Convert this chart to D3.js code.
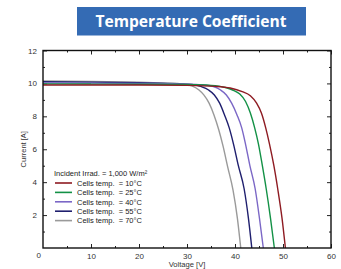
<!DOCTYPE html>
<html>
<head>
<meta charset="utf-8">
<script src="https://cdn.jsdelivr.net/npm/d3@7"></script>
<style>
    body { margin: 0; background: #fff; }
    svg { display: block; font-family: "Liberation Sans", Arial, sans-serif; }
</style>
</head>
<body>
<div id="chart"></div>
<script>
// values: [voltage V, current A]
const temps = [10, 25, 40, 55, 70];
const curve10 = [[0, 9.9], [10, 9.9], [20, 9.9], [30, 9.88], [36, 9.82], [39, 9.72], [41.5, 9.5], [43.2, 9.25], [44.5, 8.8], [45.5, 8.2], [46.4, 7.3], [47.2, 6.3], [48.1, 5.0], [48.9, 3.6], [49.8, 1.8], [50.5, 0]];
const curve25 = [[0, 9.97], [10, 9.96], [20, 9.95], [30, 9.93], [35, 9.88], [38, 9.75], [39.5, 9.6], [41, 9.35], [42.2, 8.9], [43.2, 8.2], [44.1, 7.3], [44.9, 6.3], [45.7, 5.0], [46.5, 3.6], [47.4, 1.8], [48.2, 0]];
const curve40 = [[0, 10.03], [10, 10.02], [20, 10.0], [30, 9.96], [33, 9.92], [35.5, 9.8], [37, 9.6], [38.2, 9.3], [39.3, 8.8], [40.4, 8.1], [41.4, 7.3], [42.2, 6.3], [43.1, 5.0], [44.2, 3.6], [45.1, 1.8], [45.9, 0]];
const curve55 = [[0, 10.1], [10, 10.08], [20, 10.04], [28, 9.98], [31, 9.93], [33, 9.8], [34.5, 9.6], [35.7, 9.3], [36.8, 8.8], [37.8, 8.1], [38.8, 7.3], [39.7, 6.3], [40.7, 5.0], [41.9, 3.6], [42.8, 1.8], [43.5, 0]];
const curve70 = [[0, 10.15], [10, 10.12], [20, 10.07], [26, 10.02], [29, 9.96], [31, 9.85], [32.5, 9.6], [33.5, 9.3], [34.6, 8.8], [35.6, 8.1], [36.6, 7.2], [37.5, 6.2], [38.5, 4.9], [39.6, 3.5], [40.5, 1.8], [41.2, 0]];
const curves = [curve10, curve25, curve40, curve55, curve70];

const xTicks = [10, 20, 30, 40, 50, 60];
const yTicks = [2, 4, 6, 8, 10, 12];
const titleText = "Temperature Coefficient";
const legendTitle = "Incident Irrad. = 1,000 W/m²";

const config = {
    width: 341,
    height: 269,
    plot: { left: 43, right: 331, top: 50.5, bottom: 248 },
    colors: ["#8e1b22", "#139146", "#7b67c6", "#1f1f6e", "#9a9a9a"],
    strokeWidth: 1.4
};

const svg = d3.select("#chart")
    .append("svg")
    .attr("width", config.width)
    .attr("height", config.height);

// title banner
svg.append("rect")
    .attr("x", 77)
    .attr("y", 7)
    .attr("width", 229)
    .attr("height", 28.5)
    .attr("fill", "#346bb4");

svg.append("text")
    .attr("x", 191)
    .attr("y", 27)
    .attr("text-anchor", "middle")
    .style("font-family", "'Open Sans', sans-serif")
    .style("font-weight", "bold")
    .style("font-size", "15.6px")
    .attr("fill", "#fff")
    .text(titleText);

const p = config.plot;
const x = d3.scaleLinear().domain([0, 60]).range([p.left, p.right]);
const y = d3.scaleLinear().domain([0, 12]).range([p.bottom, p.top]);

const minorX = d3.range(5, 60, 10);
const minorY = d3.range(1, 12, 2);

function styleAxis(g) {
    g.select(".domain").remove();
    g.selectAll("line").attr("stroke", "#222").attr("stroke-width", 1);
    g.selectAll("text").attr("fill", "#333").style("font-size", "8px");
}

// major ticks, pointing inward
svg.append("g")
    .attr("transform", `translate(0,${p.bottom})`)
    .call(d3.axisBottom(x).tickValues(xTicks).tickSize(-4).tickPadding(5))
    .call(styleAxis);
svg.append("g")
    .attr("transform", `translate(0,${p.bottom})`)
    .call(d3.axisBottom(x).tickValues(minorX).tickSize(-2).tickFormat(""))
    .call(styleAxis);
svg.append("g")
    .attr("transform", `translate(0,${p.top})`)
    .call(d3.axisTop(x).tickValues(xTicks).tickSize(-4).tickFormat(""))
    .call(styleAxis);
svg.append("g")
    .attr("transform", `translate(0,${p.top})`)
    .call(d3.axisTop(x).tickValues(minorX).tickSize(-2).tickFormat(""))
    .call(styleAxis);

svg.append("g")
    .attr("transform", `translate(${p.left},0)`)
    .call(d3.axisLeft(y).tickValues(yTicks).tickSize(-4).tickPadding(6))
    .call(styleAxis);
svg.append("g")
    .attr("transform", `translate(${p.left},0)`)
    .call(d3.axisLeft(y).tickValues(minorY).tickSize(-2).tickFormat(""))
    .call(styleAxis);
svg.append("g")
    .attr("transform", `translate(${p.right},0)`)
    .call(d3.axisRight(y).tickValues(yTicks).tickSize(-4).tickFormat(""))
    .call(styleAxis);
svg.append("g")
    .attr("transform", `translate(${p.right},0)`)
    .call(d3.axisRight(y).tickValues(minorY).tickSize(-2).tickFormat(""))
    .call(styleAxis);

// shared origin label
svg.append("text")
    .attr("x", p.left - 2)
    .attr("y", p.bottom + 10)
    .attr("text-anchor", "end")
    .attr("fill", "#333")
    .style("font-size", "8px")
    .text("0");

// curves
const line = d3.line()
    .x(d => x(d[0]))
    .y(d => y(d[1]))
    .curve(d3.curveMonotoneX);

svg.append("g")
    .selectAll("path")
    .data(curves.slice().reverse())
    .enter().append("path")
    .attr("d", line)
    .attr("fill", "none")
    .attr("stroke", (d, i) => config.colors[curves.length - 1 - i])
    .attr("stroke-width", config.strokeWidth);

// frame
svg.append("rect")
    .attr("x", p.left)
    .attr("y", p.top)
    .attr("width", p.right - p.left)
    .attr("height", p.bottom - p.top)
    .attr("fill", "none")
    .attr("stroke", "#111")
    .attr("stroke-width", 1.4);

// axis titles
svg.append("text")
    .attr("transform", `translate(26,${(p.top + p.bottom) / 2}) rotate(-90)`)
    .attr("text-anchor", "middle")
    .attr("fill", "#333")
    .style("font-size", "7.5px")
    .text("Current [A]");

svg.append("text")
    .attr("x", x(30))
    .attr("y", 267)
    .attr("text-anchor", "middle")
    .attr("fill", "#333")
    .style("font-size", "7.6px")
    .text("Voltage [V]");

// legend
const legend = svg.append("g").attr("transform", "translate(54,176)");
legend.append("text")
    .attr("x", 0)
    .attr("y", 0)
    .attr("fill", "#222")
    .style("font-size", "7.5px")
    .text(legendTitle);

const rows = legend.selectAll(".row")
    .data(temps)
    .enter().append("g")
    .attr("class", "row")
    .attr("transform", (d, i) => `translate(0,${7 + i * 9.4})`);
rows.append("line")
    .attr("x1", 1)
    .attr("x2", 18)
    .attr("stroke", (d, i) => config.colors[i])
    .attr("stroke-width", 1.6);
rows.append("text")
    .attr("x", 23)
    .attr("y", 2.7)
    .attr("fill", "#222")
    .style("font-size", "7.5px")
    .style("white-space", "pre")
    .text(d => `Cells temp.  = ${d}°C`);
</script>
</body>
</html>
